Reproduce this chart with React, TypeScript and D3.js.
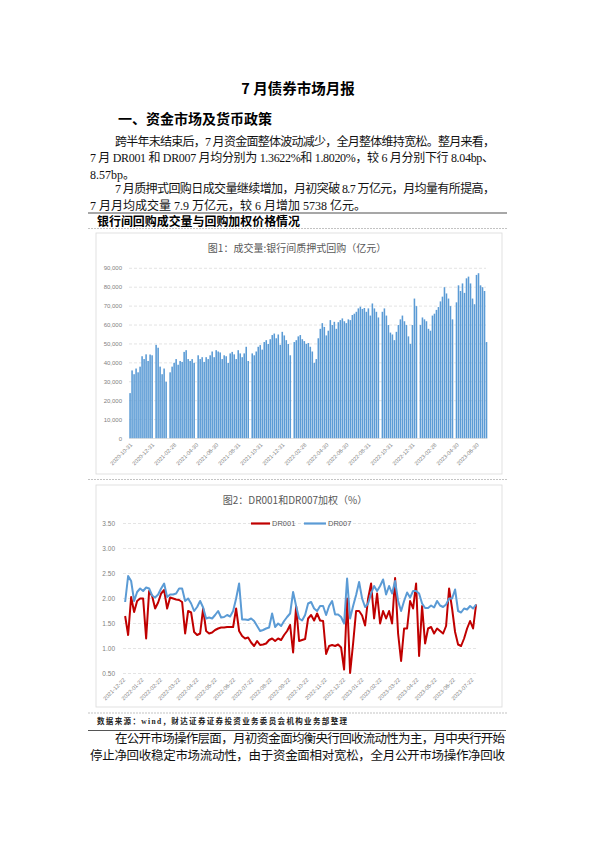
import React from 'react';
import * as d3 from 'd3';

// ---------- Chart 1 data: 成交量:银行间质押式回购（亿元） ----------
const volumeValues = [
  24000, 36000, 34000, 37000, 35000, 38000, 43500, 42000, 44500, 41000, 44400, 44000, 0, 49500, 48000, 38000, 34000, 37000, 30000, 0,
  35000, 38000, 40000, 42000, 39000, 41000, 40500, 45800, 46700, 42000, 41000, 42000, 40000, 0, 44000, 42000, 43000, 40500, 43000, 42000,
  44000, 46000, 43000, 46700, 46000, 45500, 42000, 44000, 43500, 40000, 45000, 45800, 44500, 42000, 46700, 45000, 43000, 45000, 48500, 41000,
  0, 45000, 44000, 46000, 48500, 49400, 47000, 51000, 52000, 50000, 52500, 54700, 55500, 53000, 55000, 49500, 56400, 54500, 52000, 50000,
  44000, 0, 51000, 52000, 54000, 54700, 52500, 51500, 50000, 50500, 48500, 46000, 40000, 42000, 53000, 58000, 61000, 59000, 54500, 57000,
  62600, 60000, 61700, 58000, 61500, 62600, 63500, 62000, 61000, 63000, 62600, 65300, 66000, 67000, 68800, 69700, 68500, 69000, 67000, 68800,
  65000, 71400, 68800, 67000, 64000, 0, 67000, 68800, 65000, 60000, 56000, 55000, 52000, 56400, 60000, 63000, 65000, 62000, 60000, 54000,
  50000, 60000, 74000, 70000, 0, 60000, 64000, 63000, 62000, 58000, 57000, 65000, 66000, 68000, 69500, 72500, 75000, 80000, 76700, 74000,
  70000, 63000, 0, 72000, 81000, 78000, 82000, 77000, 84700, 85600, 82000, 74000, 71000, 86500, 87400, 81000, 80000, 78000, 51000,
];
const volumeTickIndex = [0, 11, 22, 33, 43, 54, 65, 76, 87, 98, 108, 119, 130, 141, 152, 163, 173];
const volumeTickLabels = [
  '2020-10-31', '2020-12-31', '2021-02-28', '2021-04-30', '2021-06-30', '2021-08-31', '2021-10-31', '2021-12-31',
  '2022-02-28', '2022-04-30', '2022-06-30', '2022-08-31', '2022-10-31', '2022-12-31', '2023-02-28', '2023-04-30', '2023-06-30',
];
const volumeYTicks = [0, 10000, 20000, 30000, 40000, 50000, 60000, 70000, 80000, 90000];

// ---------- Chart 2 data: DR001和DR007加权（%） ----------
const dr001 = [
  1.65, 1.27, 2.03, 1.73, 1.95, 2.0, 2.0, 1.2, 2.15, 2.05, 1.8, 1.92, 2.1, 2.17, 1.8, 2.02, 2.0, 1.98, 1.97, 1.93,
  1.3, 1.75, 1.72, 1.33, 1.27, 1.3, 1.8, 1.35, 1.3, 1.32, 1.37, 1.4, 1.42, 1.42, 1.43, 1.43, 1.43, 1.8, 1.35, 1.25,
  1.2, 1.22, 1.12, 1.05, 1.15, 1.07, 1.08, 1.1, 1.17, 1.2, 1.15, 1.2, 1.17, 1.27, 1.35, 1.47, 0.92, 1.85, 1.15,
  1.17, 1.19, 1.6, 1.67, 1.56, 1.7, 1.56, 1.55, 0.89, 1.05, 1.07, 1.05, 1.08, 1.02, 0.58, 2.0, 0.51, 1.1, 1.75, 1.75,
  1.66, 1.46, 2.0, 2.3, 1.6, 2.1, 1.5, 1.75, 1.6, 1.75, 1.5, 2.41, 1.3, 0.75, 1.4, 1.4, 1.95, 1.8, 2.3, 0.85,
  1.85, 1.1, 1.4, 1.43, 1.3, 1.4, 1.35, 1.3, 1.45, 2.2, 1.8, 1.33, 1.08, 1.05, 1.2, 1.4, 1.55, 1.4, 1.88,
];
const dr007 = [
  1.93, 2.45, 2.35, 1.95, 2.13, 2.2, 2.15, 2.22, 2.2, 2.06, 2.02, 2.08, 2.2, 2.3, 2.03, 2.08, 2.08, 2.1, 2.2, 2.2,
  1.95, 2.0, 1.9, 1.75, 1.83, 1.95, 1.82, 1.6, 1.62, 1.6, 1.67, 1.75, 1.62, 1.63, 1.67, 1.64, 1.75, 2.0, 2.3, 1.58,
  1.58, 1.57, 1.6, 1.55, 1.45, 1.35, 1.37, 1.4, 1.42, 1.7, 1.43, 1.5, 1.45, 1.55, 1.63, 1.7, 2.13, 1.85, 1.6,
  1.56, 1.67, 1.9, 1.93, 1.8, 1.75, 1.85, 1.85, 1.67, 1.85, 1.95, 1.68, 1.68, 1.63, 1.5, 2.4, 1.6, 1.85, 2.07, 2.33,
  2.0, 1.83, 1.9, 2.1, 2.25, 2.15, 2.25, 2.38, 2.08, 2.25, 2.1, 2.35, 1.95, 1.75, 1.95, 2.12, 2.02, 2.15, 2.15, 2.1,
  1.9, 1.81, 1.81, 1.86, 1.82, 1.95, 1.86, 1.83, 1.88, 2.0, 2.0, 2.18, 1.75, 1.72, 1.8, 1.78, 1.85, 1.8, 1.88,
];
const rateTickLabels = [
  '2021-12-22', '2022-01-22', '2022-02-22', '2022-03-22', '2022-04-22', '2022-05-22', '2022-06-22', '2022-07-22',
  '2022-08-22', '2022-09-22', '2022-10-22', '2022-11-22', '2022-12-22', '2023-01-22', '2023-02-22', '2023-03-22',
  '2023-04-22', '2023-05-22', '2023-06-22', '2023-07-22',
];
const rateYTicks = [0.5, 1.0, 1.5, 2.0, 2.5, 3.0, 3.5];
const rateSeriesStartMonth = 0.1;
const rateSeriesEndMonth = 19.25;

const bodyFont = "'Liberation Serif', 'Noto Sans CJK SC', serif";
const headFont = "'Noto Sans CJK SC', sans-serif";
const axisFont = "'Liberation Sans', 'Noto Sans', 'Noto Sans CJK SC', sans-serif";
const axisColor = '#7f7f7f';
const gridColor = '#d9d9d9';

function VolumeChart() {
  const x = d3.scaleBand<number>().domain(d3.range(volumeValues.length)).range([129.3, 487.3]).paddingInner(0.22);
  const y = d3.scaleLinear().domain([0, 90000]).range([438.5, 268.3]);
  const fmt = d3.format(',');
  return (
    <g>
      <rect x={96} y={233} width={406} height={241} fill="#fff" stroke={gridColor} strokeWidth={0.8} />
      <text x={297} y={251.5} textAnchor="middle" fontFamily={headFont} fontSize={10} fill="#595959">
        图1：成交量:银行间质押式回购（亿元）
      </text>
      {volumeYTicks.map((t) => (
        <g key={t}>
          {t > 0 && (
            <line x1={129} x2={486} y1={y(t)} y2={y(t)} stroke={gridColor} strokeWidth={0.7} strokeDasharray="3,2" />
          )}
          <text x={122} y={y(t)} dy="0.35em" textAnchor="end" fontFamily={axisFont} fontSize={6} fill={axisColor}>
            {fmt(t)}
          </text>
        </g>
      ))}
      {volumeValues.map((v, i) =>
        v > 0 ? (
          <rect key={i} x={x(i)} y={y(v)} width={x.bandwidth()} height={y(0) - y(v)} fill="#5b9bd5" />
        ) : null
      )}
      <line x1={129} x2={487} y1={y(0)} y2={y(0)} stroke={gridColor} strokeWidth={0.7} />
      {volumeTickIndex.map((idx, k) => {
        const tx = (x(idx) as number) + x.step() / 2;
        return (
          <text
            key={k}
            transform={`translate(${tx + 1},${444}) rotate(-45)`}
            textAnchor="end"
            dy="0.35em"
            fontFamily={axisFont}
            fontSize={5.6}
            fill={axisColor}
          >
            {volumeTickLabels[k]}
          </text>
        );
      })}
    </g>
  );
}

function RateChart() {
  const xm = d3.scaleLinear().domain([0, rateTickLabels.length - 1]).range([123.3, 471.5]);
  const y = d3.scaleLinear().domain([0.5, 3.5]).range([673.5, 523.5]);
  const xi = (n: number) =>
    d3.scaleLinear().domain([0, n - 1]).range([xm(rateSeriesStartMonth), xm(rateSeriesEndMonth)]);
  const lineOf = (vals: number[]) => {
    const sx = xi(vals.length);
    return d3
      .line<number>()
      .x((_, i) => sx(i))
      .y((d) => y(d))(vals) as string;
  };
  return (
    <g>
      <rect x={96} y={485} width={406} height={222} fill="#fff" stroke={gridColor} strokeWidth={0.8} />
      <text x={295} y={503.5} textAnchor="middle" fontFamily={headFont} fontSize={10} fill="#595959">
        图2：DR001和DR007加权（%）
      </text>
      {rateYTicks.map((t) => (
        <g key={t}>
          <line x1={123} x2={476} y1={y(t)} y2={y(t)} stroke={gridColor} strokeWidth={0.7} strokeDasharray="3,2" />
          <text x={115} y={y(t)} dy="0.35em" textAnchor="end" fontFamily={axisFont} fontSize={6.5} fill={axisColor}>
            {t.toFixed(2)}
          </text>
        </g>
      ))}
      <path d={lineOf(dr001)} fill="none" stroke="#c00000" strokeWidth={2} strokeLinejoin="round" />
      <path d={lineOf(dr007)} fill="none" stroke="#5b9bd5" strokeWidth={2} strokeLinejoin="round" />
      {/* legend */}
      <line x1={251} x2={270} y1={y(3.5)} y2={y(3.5)} stroke="#c00000" strokeWidth={2.2} />
      <text x={272} y={y(3.5)} dy="0.35em" fontFamily={axisFont} fontSize={7.5} fill="#595959">DR001</text>
      <line x1={304} x2={326} y1={y(3.5)} y2={y(3.5)} stroke="#5b9bd5" strokeWidth={2.2} />
      <text x={328} y={y(3.5)} dy="0.35em" fontFamily={axisFont} fontSize={7.5} fill="#595959">DR007</text>
      {rateTickLabels.map((lab, k) => (
        <text
          key={k}
          transform={`translate(${xm(k) + 1},${679}) rotate(-45)`}
          textAnchor="end"
          dy="0.35em"
          fontFamily={axisFont}
          fontSize={5.6}
          fill={axisColor}
        >
          {lab}
        </text>
      ))}
    </g>
  );
}

export default function App() {
  return (
    <svg
      width={595}
      height={842}
      viewBox="0 0 595 842"
      style={{ position: 'absolute', left: 0, top: 0, background: '#fff' }}
    >
      <rect x={0} y={0} width={595} height={842} fill="#fff" />
      <text x={298} y={94} textAnchor="middle" fontFamily={headFont} fontWeight={700} fontSize={14.5} fill="#000">
        7 月债券市场月报
      </text>
      <text x={118} y={124} fontFamily={headFont} fontWeight={700} fontSize={13.5} fill="#000" textLength={154} lengthAdjust="spacingAndGlyphs">
        一、资金市场及货币政策
      </text>
      <g fontFamily={bodyFont} fontSize={12} fill="#111">
        <text x={115} y={146} textLength={380} lengthAdjust="spacing">跨半年末结束后，7 月资金面整体波动减少，全月整体维持宽松。整月来看，</text>
        <text x={90} y={162} textLength={404} lengthAdjust="spacing">7 月 DR001 和 DR007 月均分别为 1.3622%和 1.8020%，较 6 月分别下行 8.04bp、</text>
        <text x={90} y={178.5}>8.57bp。</text>
        <text x={115} y={193} textLength={380} lengthAdjust="spacing">7 月质押式回购日成交量继续增加，月初突破 8.7 万亿元，月均量有所提高，</text>
        <text x={90} y={209.5}>7 月月均成交量 7.9 万亿元，较 6 月增加 5738 亿元。</text>
      </g>
      <line x1={88} x2={507} y1={213} y2={213} stroke="#8a8a8a" strokeWidth={1.3} />
      <text x={97} y={226} fontFamily={headFont} fontWeight={700} fontSize={12} fill="#000" textLength={203} lengthAdjust="spacingAndGlyphs">
        银行间回购成交量与回购加权价格情况
      </text>
      <line x1={88} x2={507} y1={228.5} y2={228.5} stroke="#9a9a9a" strokeWidth={0.6} strokeDasharray="2,1" />
      <VolumeChart />
      <line x1={88} x2={507} y1={479.5} y2={479.5} stroke="#9a9a9a" strokeWidth={0.6} strokeDasharray="2,1" />
      <RateChart />
      <line x1={88} x2={507} y1={713} y2={713} stroke="#9a9a9a" strokeWidth={0.6} strokeDasharray="2,1" />
      <text x={97} y={724} fontFamily={bodyFont} fontWeight={700} fontSize={7.5} fill="#222" textLength={250} lengthAdjust="spacing">
        数据来源：wind，财达证券证券投资业务委员会机构业务部整理
      </text>
      <line x1={88} x2={506} y1={730.5} y2={730.5} stroke="#555" strokeWidth={1.2} />
      <g fontFamily={bodyFont} fontSize={12.5} fill="#111">
        <text x={115} y={742.5} textLength={390} lengthAdjust="spacing">在公开市场操作层面，月初资金面均衡央行回收流动性为主，月中央行开始</text>
        <text x={90} y={759.5} textLength={415} lengthAdjust="spacing">停止净回收稳定市场流动性，由于资金面相对宽松，全月公开市场操作净回收</text>
      </g>
    </svg>
  );
}
